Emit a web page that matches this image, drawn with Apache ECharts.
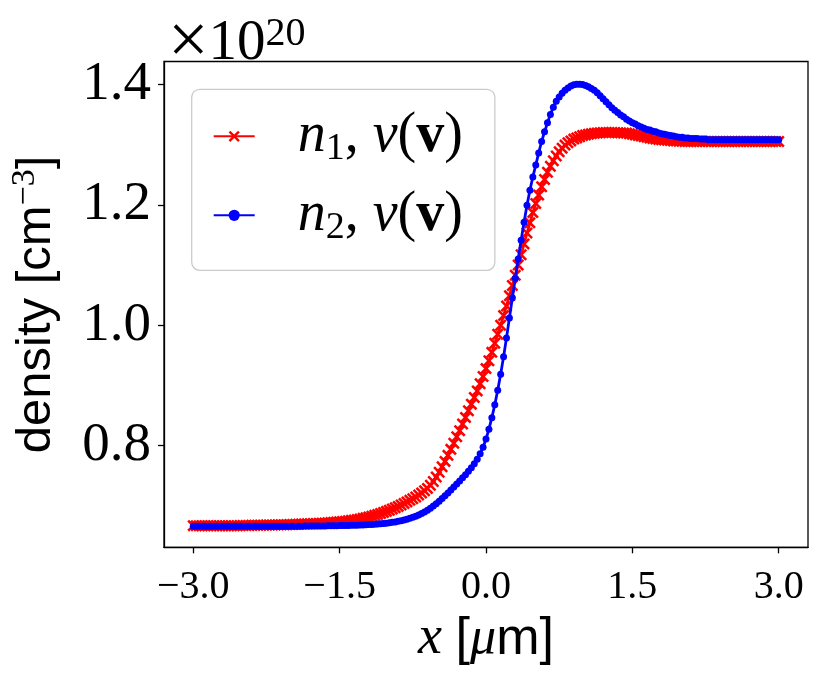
<!DOCTYPE html>
<html><head><meta charset="utf-8">
<script src="https://cdn.jsdelivr.net/npm/echarts@6/dist/echarts.min.js"></script>
<style>html,body{margin:0;padding:0;background:#fff}#c{width:831px;height:673px}</style>
</head><body><div id="c"></div>
<script>
const xs = [
-3.00,-2.97,-2.94,-2.91,-2.88,-2.85,-2.82,-2.79,-2.76,-2.73,
-2.70,-2.67,-2.64,-2.61,-2.58,-2.55,-2.52,-2.49,-2.46,-2.43,
-2.40,-2.37,-2.34,-2.31,-2.28,-2.25,-2.22,-2.19,-2.16,-2.13,
-2.10,-2.07,-2.04,-2.01,-1.98,-1.95,-1.92,-1.89,-1.86,-1.83,
-1.80,-1.77,-1.74,-1.71,-1.68,-1.65,-1.62,-1.59,-1.56,-1.53,
-1.50,-1.47,-1.44,-1.41,-1.38,-1.35,-1.32,-1.29,-1.26,-1.23,
-1.20,-1.17,-1.14,-1.11,-1.08,-1.05,-1.02,-0.99,-0.96,-0.93,
-0.90,-0.87,-0.84,-0.81,-0.78,-0.75,-0.72,-0.69,-0.66,-0.63,
-0.60,-0.57,-0.54,-0.51,-0.48,-0.45,-0.42,-0.39,-0.36,-0.33,
-0.30,-0.27,-0.24,-0.21,-0.18,-0.15,-0.12,-0.09,-0.06,-0.03,
0.00,0.03,0.06,0.09,0.12,0.15,0.18,0.21,0.24,0.27,
0.30,0.33,0.36,0.39,0.42,0.45,0.48,0.51,0.54,0.57,
0.60,0.63,0.66,0.69,0.72,0.75,0.78,0.81,0.84,0.87,
0.90,0.93,0.96,0.99,1.02,1.05,1.08,1.11,1.14,1.17,
1.20,1.23,1.26,1.29,1.32,1.35,1.38,1.41,1.44,1.47,
1.50,1.53,1.56,1.59,1.62,1.65,1.68,1.71,1.74,1.77,
1.80,1.83,1.86,1.89,1.92,1.95,1.98,2.01,2.04,2.07,
2.10,2.13,2.16,2.19,2.22,2.25,2.28,2.31,2.34,2.37,
2.40,2.43,2.46,2.49,2.52,2.55,2.58,2.61,2.64,2.67,
2.70,2.73,2.76,2.79,2.82,2.85,2.88,2.91,2.94,2.97,
3.00];

// n1, nu(v)  (x 1e20 cm^-3)
const n1 = [
0.6673,0.6673,0.6673,0.6673,0.6673,0.6673,0.6673,0.6673,0.6673,0.6673,
0.6673,0.6673,0.6673,0.6673,0.6673,0.6673,0.6674,0.6675,0.6676,0.6677,
0.6678,0.6679,0.6680,0.6681,0.6682,0.6683,0.6684,0.6685,0.6686,0.6687,
0.6688,0.6689,0.6690,0.6692,0.6694,0.6696,0.6698,0.6700,0.6702,0.6704,
0.6706,0.6708,0.6710,0.6712,0.6715,0.6718,0.6721,0.6725,0.6729,0.6733,
0.6738,0.6743,0.6748,0.6754,0.6761,0.6768,0.6776,0.6785,0.6795,0.6806,
0.6818,0.6831,0.6845,0.6860,0.6876,0.6893,0.6911,0.6930,0.6950,0.6971,
0.6993,0.7017,0.7042,0.7068,0.7094,0.7120,0.7150,0.7182,0.7216,0.7252,
0.7292,0.7345,0.7405,0.7480,0.7560,0.7650,0.7740,0.7840,0.7940,0.8040,
0.8150,0.8250,0.8360,0.8470,0.8580,0.8690,0.8800,0.8910,0.9030,0.9150,
0.9280,0.9410,0.9550,0.9700,0.9850,1.0000,1.0160,1.0320,1.0490,1.0660,
1.0830,1.1000,1.1170,1.1350,1.1530,1.1700,1.1870,1.2020,1.2160,1.2300,
1.2420,1.2540,1.2640,1.2730,1.2810,1.2880,1.2940,1.2990,1.3030,1.3060,
1.3090,1.3110,1.3130,1.3150,1.3160,1.3170,1.3180,1.3185,1.3190,1.3195,
1.3200,1.3200,1.3200,1.3200,1.3198,1.3196,1.3194,1.3192,1.3190,1.3180,
1.3170,1.3160,1.3150,1.3140,1.3130,1.3120,1.3110,1.3100,1.3090,1.3085,
1.3080,1.3075,1.3070,1.3065,1.3060,1.3058,1.3056,1.3054,1.3052,1.3050,
1.3050,1.3050,1.3050,1.3050,1.3050,1.3050,1.3050,1.3050,1.3050,1.3050,
1.3050,1.3050,1.3050,1.3050,1.3050,1.3050,1.3050,1.3050,1.3050,1.3050,
1.3050,1.3050,1.3050,1.3050,1.3050,1.3050,1.3050,1.3050,1.3050,1.3050,
1.3050];

// n2, nu(v)
const n2 = [
0.6665,0.6665,0.6665,0.6665,0.6665,0.6665,0.6665,0.6665,0.6665,0.6665,
0.6665,0.6665,0.6665,0.6665,0.6665,0.6665,0.6665,0.6665,0.6665,0.6665,
0.6665,0.6665,0.6665,0.6665,0.6665,0.6665,0.6665,0.6665,0.6665,0.6665,
0.6665,0.6665,0.6665,0.6665,0.6665,0.6665,0.6665,0.6665,0.6666,0.6666,
0.6666,0.6667,0.6668,0.6668,0.6669,0.6669,0.6670,0.6671,0.6672,0.6673,
0.6674,0.6675,0.6676,0.6677,0.6679,0.6680,0.6682,0.6684,0.6686,0.6688,
0.6691,0.6694,0.6697,0.6701,0.6705,0.6710,0.6715,0.6721,0.6728,0.6736,
0.6745,0.6755,0.6767,0.6780,0.6795,0.6812,0.6831,0.6852,0.6876,0.6902,
0.6931,0.6963,0.6999,0.7038,0.7080,0.7124,0.7170,0.7217,0.7265,0.7314,
0.7364,0.7415,0.7467,0.7520,0.7575,0.7635,0.7700,0.7775,0.7865,0.7975,
0.8110,0.8275,0.8465,0.8680,0.8920,0.9185,0.9475,0.9790,1.0120,1.0455,
1.0780,1.1100,1.1410,1.1710,1.1990,1.2240,1.2460,1.2660,1.2860,1.3050,
1.3210,1.3360,1.3500,1.3620,1.3720,1.3790,1.3850,1.3900,1.3940,1.3970,
1.3990,1.4000,1.4000,1.3995,1.3980,1.3960,1.3930,1.3900,1.3860,1.3810,
1.3760,1.3710,1.3660,1.3610,1.3570,1.3530,1.3490,1.3460,1.3420,1.3390,
1.3360,1.3340,1.3310,1.3290,1.3270,1.3250,1.3240,1.3220,1.3210,1.3190,
1.3180,1.3170,1.3160,1.3150,1.3140,1.3130,1.3120,1.3120,1.3110,1.3110,
1.3100,1.3100,1.3100,1.3090,1.3090,1.3090,1.3080,1.3080,1.3080,1.3080,
1.3080,1.3080,1.3080,1.3080,1.3080,1.3080,1.3080,1.3080,1.3080,1.3080,
1.3080,1.3080,1.3080,1.3080,1.3080,1.3080,1.3080,1.3080,1.3080,1.3080,
1.3080];

const xTicks = [-3.0, -1.5, 0.0, 1.5, 3.0];
const yTicks = [0.8, 1.0, 1.2, 1.4];
const seriesNames = ['n1', 'n2'];

const SERIF = 'Liberation Serif';
const SANS = 'Liberation Sans';
const X_PATH = 'path://M3,0 L10,7 L17,0 L20,3 L13,10 L20,17 L17,20 L10,13 L3,20 L0,17 L7,10 L0,3 Z';
const fmt = v => (v < 0 ? '\u2212' + Math.abs(v).toFixed(1) : v.toFixed(1));

const chart = echarts.init(document.getElementById('c'), null, {renderer: 'canvas'});
chart.setOption({
  animation: false,
  backgroundColor: '#ffffff',
  grid: {left: 164, right: 23, top: 61.5, bottom: 125.7, show: true, borderColor: '#000', borderWidth: 1.3,
         backgroundColor: 'transparent', containLabel: false, outerBoundsMode: 'none'},
  xAxis: {
    type: 'value', min: -3.3, max: 3.3,
    splitLine: {show: false},
    axisLine: {show: true, onZero: false, lineStyle: {color: '#000', width: 1.3}},
    axisTick: {show: true, customValues: xTicks, length: 6, lineStyle: {color: '#000', width: 1.3}},
    axisLabel: {customValues: xTicks, formatter: fmt, fontFamily: SERIF, fontSize: 40, color: '#000', margin: 20},
    name: '{i|x }{s|[}{m|\u03bc}{s|m]}',
    nameLocation: 'middle', nameGap: 58,
    nameTextStyle: {color: '#000', rich: {
      i: {fontFamily: SERIF, fontStyle: 'italic', fontSize: 54, lineHeight: 56},
      m: {fontFamily: SERIF, fontStyle: 'italic', fontSize: 52, lineHeight: 56},
      s: {fontFamily: SANS, fontSize: 52, lineHeight: 56}
    }}
  },
  yAxis: {
    type: 'value', min: 0.6314, max: 1.4378,
    splitLine: {show: false},
    axisLine: {show: true, onZero: false, lineStyle: {color: '#000', width: 1.3}},
    axisTick: {show: true, customValues: yTicks, length: 6, lineStyle: {color: '#000', width: 1.3}},
    axisLabel: {customValues: yTicks, formatter: v => v.toFixed(1), fontFamily: SERIF, fontSize: 55, color: '#000', margin: 13},
    name: '{s|density [cm}{sup|\u22123}{s|]}',
    nameLocation: 'middle', nameGap: 100, nameRotate: 90,
    nameTextStyle: {color: '#000', rich: {
      s: {fontFamily: SANS, fontSize: 49, lineHeight: 56},
      sup: {fontFamily: SERIF, fontSize: 34, lineHeight: 28, verticalAlign: 'top'}
    }}
  },
  legend: {
    orient: 'vertical', left: 191.7, top: 89.3,
    padding: [19, 32, 23, 21], itemGap: 19, itemWidth: 41, itemHeight: 14,
    backgroundColor: 'rgba(255,255,255,0.8)', borderColor: '#cccccc', borderWidth: 1.3, borderRadius: 8,
    data: seriesNames,
    formatter: name => name === 'n1'
      ? '{i|n}{sub|1}{r|, }{i|\u03bd}{r|(}{b|v}{r|)}'
      : '{i|n}{sub|2}{r|, }{i|\u03bd}{r|(}{b|v}{r|)}',
    textStyle: {color: '#000', padding: [0, 0, 0, 38], rich: {
      i: {fontFamily: SERIF, fontStyle: 'italic', fontSize: 56, lineHeight: 64},
      r: {fontFamily: SERIF, fontSize: 56, lineHeight: 64},
      b: {fontFamily: SERIF, fontWeight: 'bold', fontSize: 56, lineHeight: 64},
      sub: {fontFamily: SERIF, fontSize: 38, lineHeight: 38, verticalAlign: 'bottom'}
    }}
  },
  graphic: [{
    type: 'text', left: 168, top: 8, z: 10,
    style: {text: '{x|\u00d7}{a|10}{b|20}', fill: '#000', rich: {
      x: {fontFamily: SERIF, fontSize: 72, lineHeight: 60},
      a: {fontFamily: SERIF, fontSize: 57, lineHeight: 60},
      b: {fontFamily: SERIF, fontSize: 40, lineHeight: 27, verticalAlign: 'top'}
    }}
  }],
  series: [
    {name: 'n1', type: 'line', data: xs.map((x, i) => [x, n1[i]]),
     symbol: X_PATH, symbolSize: 12, showSymbol: true, showAllSymbol: true,
     lineStyle: {color: '#ff0000', width: 2.8}, itemStyle: {color: '#ff0000'}, z: 2},
    {name: 'n2', type: 'line', data: xs.map((x, i) => [x, n2[i]]),
     symbol: 'circle', symbolSize: 7, showSymbol: true, showAllSymbol: true,
     lineStyle: {color: '#0000ff', width: 2.8}, itemStyle: {color: '#0000ff'}, z: 3}
  ]
});
</script>
</body></html>
